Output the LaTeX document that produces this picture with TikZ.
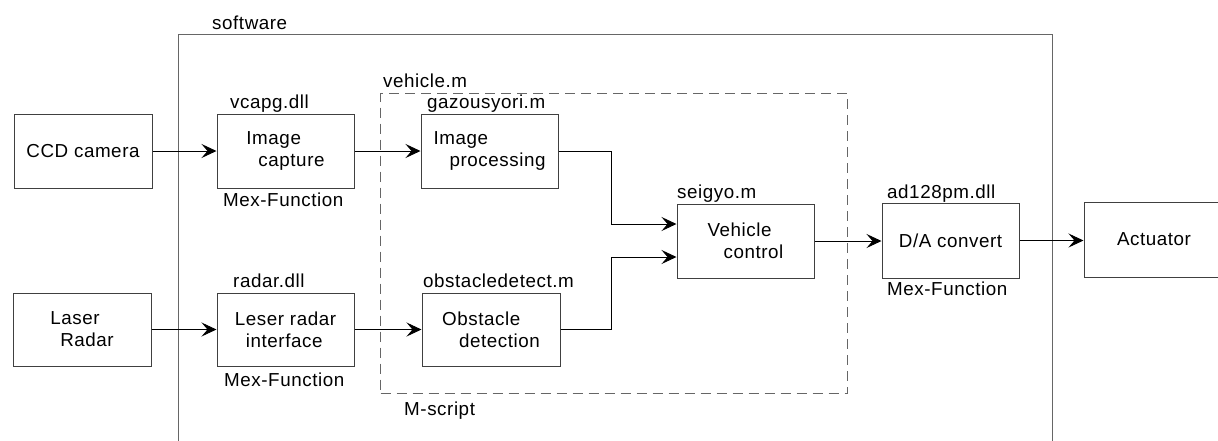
\documentclass[tikz,border=0pt]{standalone}
\usepackage{fontspec}
\setmainfont{Liberation Sans}[LetterSpace=3]
\usetikzlibrary{arrows.meta}

\tikzset{
  blk/.style={draw=black!75,line width=1pt,minimum width=137pt,minimum height=74pt,inner sep=0pt,align=left},
  tag/.style={inner sep=0pt,anchor=base west},
  arr/.style={-{Stealth[length=15pt,width=14pt,inset=6pt]},line width=0.9pt},
}

\begin{document}
\begin{tikzpicture}[x=1pt,y=-1pt,font=\fontsize{18.8}{22}\selectfont]
\clip (0,0) rectangle (1218,440);

% frames
\node[draw=black!60,line width=1.2pt,minimum width=874pt,minimum height=440pt,anchor=north west,inner sep=0pt] (soft) at (178,34) {};
\node[draw=black!60,line width=1.1pt,dash pattern=on 10pt off 6pt,minimum width=467pt,minimum height=300pt,anchor=north west,inner sep=0pt] (vm) at (380,93) {};
\node[tag] (softlbl) at (212,29) {software};
\node[tag] (vmlbl) at (383,87) {vehicle.m};
\node[tag] (mscript) at (404,415) {M-script};

% blocks
\node[blk,minimum width=138pt] (ccd) at (83,151) {CCD camera};
\node[blk] (cap) at (285.5,151) {Image\\\hspace*{12pt}capture};
\node[blk] (imp) at (489.5,151) {Image\\\hspace*{16pt}processing};
\node[blk,minimum width=138pt,minimum height=73pt] (laser) at (82,329.5) {Laser\\\hspace*{10pt}Radar};
\node[blk,minimum height=73pt] (lrif) at (285.5,329.5) {Leser radar\\\hspace*{11pt}interface};
\node[blk,minimum width=138pt,minimum height=73pt] (obs) at (491,329.5) {Obstacle\\\hspace*{17pt}detection};
\node[blk] (veh) at (745.5,241) {Vehicle\\\hspace*{16pt}control};
\node[blk,minimum height=75pt] (da) at (950.5,240.5) {D/A convert};
\node[blk,minimum width=140pt,minimum height=75pt] (act) at (1154,239.5) {Actuator};

% file names
\node[tag] (capf) at (230,108) {vcapg.dll};
\node[tag] (impf) at (427,108) {gazousyori.m};
\node[tag] (lriff) at (233,287) {radar.dll};
\node[tag] (obsf) at (423,287) {obstacledetect.m};
\node[tag] (vehf) at (677,198) {seigyo.m};
\node[tag] (daf) at (887,198) {ad128pm.dll};
\node[tag] (capm) at (223,206) {Mex-Function};
\node[tag] (lrifm) at (224,386) {Mex-Function};
\node[tag] (dam) at (887,295) {Mex-Function};

% connectors
\coordinate (jx) at (611,0);
\coordinate (vin1) at ([yshift=17pt]veh.west);
\coordinate (vin2) at ([yshift=-16pt]veh.west);
\draw[arr] (ccd) -- (cap);
\draw[arr] (cap) -- (imp);
\draw[arr] (laser) -- (lrif);
\draw[arr] (lrif) -- (obs);
\draw[arr] (imp.east) -- (imp.east -| jx) |- (vin1);
\draw[arr] (obs.east) -- (obs.east -| jx) |- (vin2);
\draw[arr] (veh.east) -- (da.west |- veh.east);
\draw[arr] (da.east) -- (act.west |- da.east);
\end{tikzpicture}
\end{document}
